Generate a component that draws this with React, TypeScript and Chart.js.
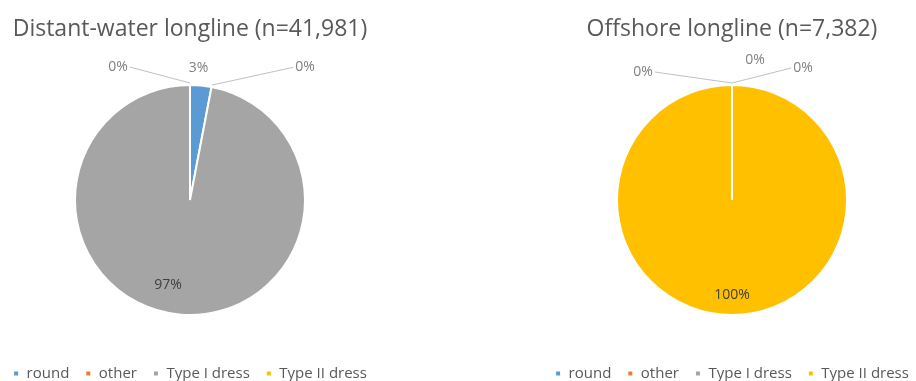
import React, { useEffect, useRef } from "react";
import { Chart, registerables } from "chart.js";

Chart.register(...registerables);

// ---- data ----
const categories = ["round", "other", "Type I dress", "Type II dress"];
const distantWaterValues = [3, 0, 97, 0];
const offshoreValues = [0, 0, 0, 100];
const distantWaterTitle = "Distant-water longline (n=41,981)";
const offshoreTitle = "Offshore longline (n=7,382)";

// ---- style ----
const sliceColors = ["#5B9BD5", "#ED7D31", "#A5A5A5", "#FFC000"];
const FONT = "'Open Sans', 'DejaVu Sans', sans-serif";

const pieLabelPlugin = {
  id: "pieLabels",
  afterDatasetsDraw(chart: any, _args: any, opts: any) {
    const ctx = chart.ctx as CanvasRenderingContext2D;
    const meta = chart.getDatasetMeta(0);
    const data = chart.data.datasets[0].data as number[];
    const total = data.reduce((a, b) => a + b, 0);
    const nudges: number[][] = opts.nudges || [];
    ctx.save();
    ctx.font = `${opts.fontSize}px ${FONT}`;
    ctx.textAlign = "center";
    ctx.textBaseline = "middle";
    meta.data.forEach((arc: any, i: number) => {
      const { x, y, startAngle, endAngle, outerRadius } = arc.getProps(
        ["x", "y", "startAngle", "endAngle", "outerRadius"],
        true
      );
      const mid = (startAngle + endAngle) / 2;
      const share = data[i] / total;
      const text = Math.round(share * 100) + "%";
      const [dx, dy] = nudges[i] || [0, 0];
      const inside = share >= 0.5;
      const rr = inside ? outerRadius * 0.83 : outerRadius + 18;
      const lx = x + Math.cos(mid) * rr + dx;
      const ly = y + Math.sin(mid) * rr + dy;
      if (!inside && Math.hypot(dx, dy) > 25) {
        const w = ctx.measureText(text).width;
        const px = x + Math.cos(mid) * (outerRadius + 2);
        const py = y + Math.sin(mid) * (outerRadius + 2);
        const ex = lx < px ? lx + w / 2 + 2 : lx - w / 2 - 2;
        ctx.beginPath();
        ctx.strokeStyle = opts.lineColor;
        ctx.lineWidth = 1;
        ctx.moveTo(px, py);
        if (Math.abs(ex - px) < 30) ctx.lineTo(px, ly);
        ctx.lineTo(ex, ly);
        ctx.stroke();
      }
      ctx.fillStyle = inside ? opts.insideColor : opts.outsideColor;
      ctx.fillText(text, lx, ly);
    });
    ctx.restore();
  },
};

function makeConfig(title: string, values: number[], nudges: number[][]): any {
  return {
    type: "pie",
    data: {
      labels: categories,
      datasets: [
        {
          data: values,
          backgroundColor: sliceColors,
          borderColor: "#ffffff",
          borderWidth: 2,
          radius: 115,
        },
      ],
    },
    options: {
      responsive: false,
      animation: false,
      events: [],
      layout: { padding: 0 },
      plugins: {
        title: {
          display: true,
          text: title,
          color: "#595959",
          font: { family: FONT, size: 23, weight: "normal" },
          padding: { top: 15.2, bottom: 7.2 },
        },
        legend: {
          position: "bottom",
          align: "center",
          labels: {
            color: "#595959",
            font: { family: FONT, size: 15 },
            boxWidth: 6,
            boxHeight: 6,
            padding: 16,
          },
        },
        tooltip: { enabled: false },
        pieLabels: {
          nudges,
          fontSize: 14,
          lineColor: "#BFBFC8",
          outsideColor: "#808080",
          insideColor: "#404040",
        },
      },
    },
    plugins: [pieLabelPlugin],
  };
}

function PieChart(props: { left: number; title: string; values: number[]; nudges: number[][] }) {
  const ref = useRef<HTMLCanvasElement>(null);
  useEffect(() => {
    const chart = new Chart(ref.current as HTMLCanvasElement, makeConfig(props.title, props.values, props.nudges));
    return () => chart.destroy();
  }, []);
  return (
    <canvas
      ref={ref}
      width={400}
      height={391}
      style={{ position: "absolute", left: props.left, top: 0, width: 400, height: 391 }}
    />
  );
}

export default function App() {
  return (
    <div
      style={{
        position: "fixed",
        left: 0,
        top: 0,
        width: 916,
        height: 381,
        overflow: "hidden",
        background: "#ffffff",
      }}
    >
      <PieChart
        left={-10}
        title={distantWaterTitle}
        values={distantWaterValues}
        nudges={[[-4, 0], [90, -2], [-13, -10], [-72, 0]]}
      />
      <PieChart
        left={532}
        title={offshoreTitle}
        values={offshoreValues}
        nudges={[[-89, 5], [23, -7], [71, 1], [0, 0]]}
      />
    </div>
  );
}
